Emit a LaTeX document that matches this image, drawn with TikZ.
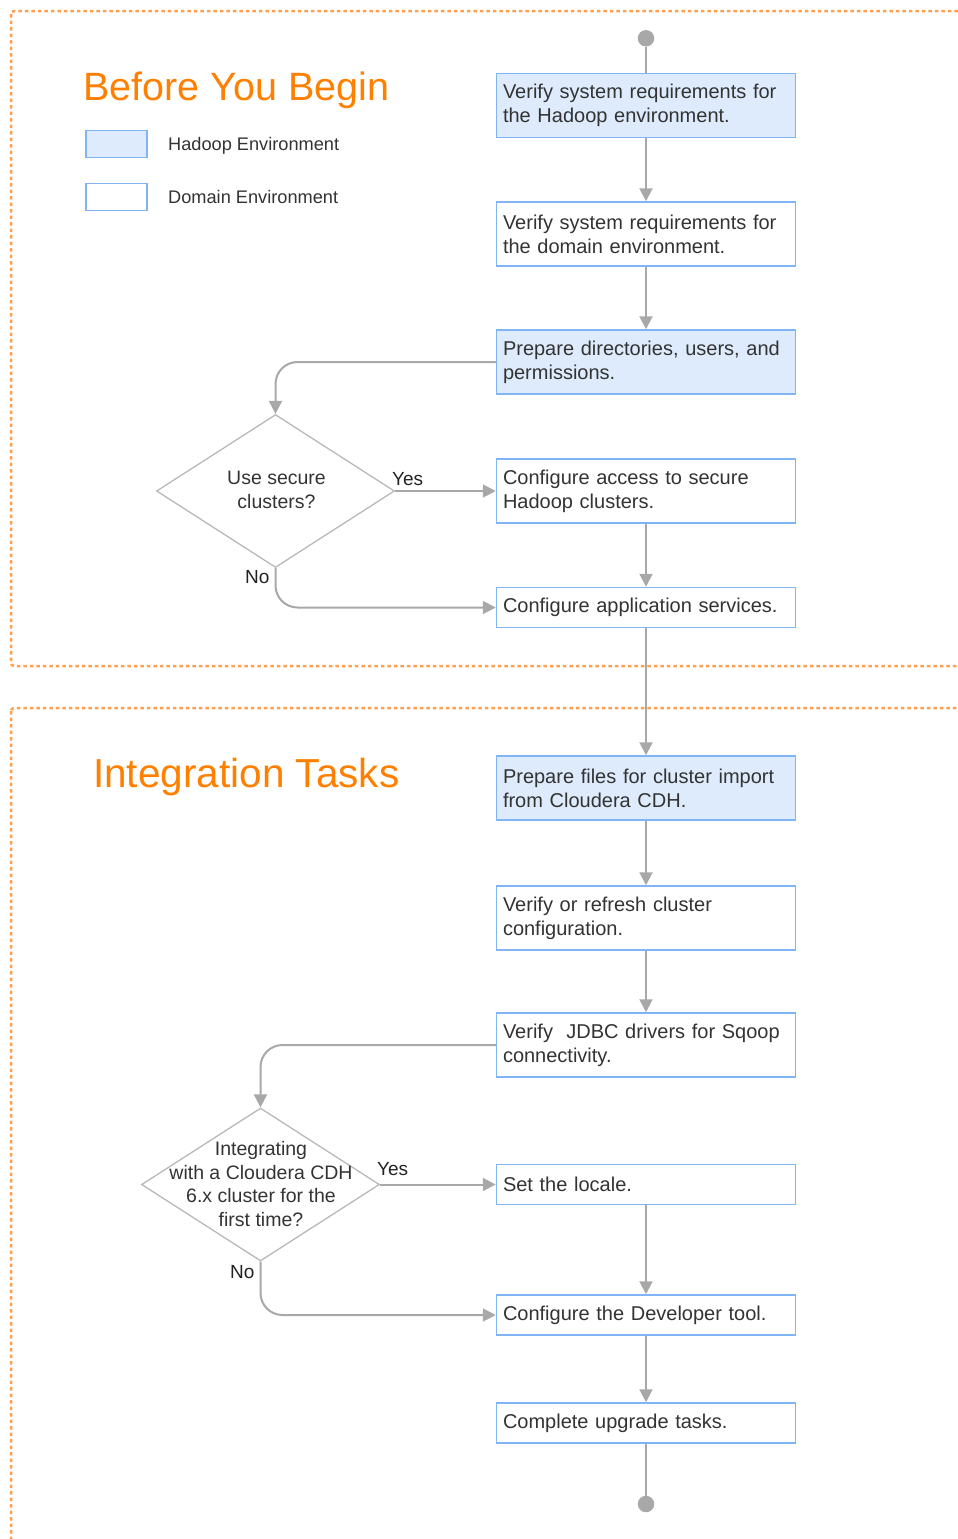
\documentclass[tikz,border=0pt]{standalone}
\usepackage{fontspec}
\setmainfont{Liberation Sans}
\usetikzlibrary{arrows.meta,shapes.geometric}
\definecolor{orng}{HTML}{FF8000}
\definecolor{frameor}{HTML}{FFA050}
\definecolor{hfill}{HTML}{DDEBFC}
\definecolor{hbord}{HTML}{80B4F5}
\definecolor{lgray}{HTML}{A8A8A8}
\definecolor{dgray}{HTML}{B8B8B8}
\definecolor{txt}{HTML}{333333}
\definecolor{lbl}{HTML}{222222}
\begin{document}
\begin{tikzpicture}[x=1pt,y=-1pt,
  task/.style={draw=hbord, line width=1.5pt, fill=white, minimum width=299pt,
    minimum height=64pt, text width=286pt, inner xsep=6.5pt, inner ysep=0pt,
    align=left, font=\fontsize{20}{24}\selectfont, text=txt},
  short/.style={task, minimum height=40pt},
  hadoop/.style={fill=hfill},
  dia/.style={diamond, draw=dgray, line width=1.3pt, minimum width=238pt,
    minimum height=153pt, inner sep=0pt},
  diatext/.style={align=center, inner sep=0pt, font=\fontsize{19.5}{23.5}\selectfont, text=txt},
  yn/.style={anchor=base west, inner sep=0pt, font=\fontsize{19}{23}\selectfont, text=lbl},
  title/.style={anchor=base west, inner sep=0pt, text=orng},
  legbox/.style={draw=hbord, line width=1.5pt, minimum width=61pt, minimum height=27pt, inner sep=0pt},
  legtext/.style={anchor=base west, inner sep=0pt, font=\fontsize{18.2}{22}\selectfont, text=txt},
  frame/.style={draw=frameor, line width=2.5pt, dash pattern=on 3.5pt off 3pt, rounded corners=3pt},
  conn/.style={draw=lgray, line width=2pt},
  arr/.style={conn, -{Triangle[length=13pt,width=13pt]}},
  term/.style={circle, fill=lgray, minimum size=16.5pt, inner sep=0pt},
]
\useasboundingbox (0,0) rectangle (958,1539);
\clip (0,0) rectangle (958,1539);

% frames
\path[frame] (11,11) rectangle (990,666);
\path[frame] (11,708) rectangle (990,1580);

% titles and legend
\node[title, font=\fontsize{39.5}{46}\selectfont] (t1) at (83,100) {Before You Begin};
\node[title, font=\fontsize{40.5}{46}\selectfont] (t2) at (93,787) {Integration Tasks};
\node[legbox, fill=hfill] (lg1) at (116.5,144) {};
\node[legbox, fill=white] (lg2) at (116.5,197) {};
\node[legtext] (lt1) at (168,150.7) {Hadoop Environment};
\node[legtext] (lt2) at (168,203.3) {Domain Environment};

% terminals
\node[term] (start) at (646,38.3) {};
\node[term] (end) at (646,1504) {};

% upper flow
\node[task, hadoop] (b1) at (646,105.3) {Verify system requirements for\\the Hadoop environment.};
\node[task] (b2) at (646,234) {Verify system requirements for\\the domain environment.};
\node[task, hadoop] (b3) at (646,362) {Prepare directories, users, and\\permissions.};
\node[dia] (d1) at (275.5,491) {};
\node[diatext] (d1t) at (276.5,490) {Use secure\\clusters?};
\node[task] (b4) at (646,491) {Configure access to secure\\Hadoop clusters.};
\node[short] (b5) at (646,607.5) {Configure application services.};
\node[yn] (y1) at (392,485.7) {Yes};
\node[yn] (n1) at (245,583.3) {No};

% lower flow
\node[task, hadoop] (b6) at (646,788) {Prepare files for cluster import\\from Cloudera CDH.};
\node[task] (b7) at (646,918) {Verify or refresh cluster\\configuration.};
\node[task] (b8) at (646,1045) {Verify\ \ JDBC drivers for Sqoop\\connectivity.};
\node[dia] (d2) at (260.5,1184.5) {};
\node[diatext] (d2t) at (261,1184) {Integrating\\with a Cloudera CDH\\6.x cluster for the\\first time?};
\node[short] (b9) at (646,1184.5) {Set the locale.};
\node[short] (b10) at (646,1315) {Configure the Developer tool.};
\node[short] (b11) at (646,1423) {Complete upgrade tasks.};
\node[yn] (y2) at (377,1175) {Yes};
\node[yn] (n2) at (230,1278.3) {No};

% connectors
\draw[conn] (start) -- (b1);
\draw[arr] (b1) -- (b2);
\draw[arr] (b2) -- (b3);
\draw[arr, rounded corners=22pt] (b3.west) -| (d1.north);
\draw[arr] (d1.east) -- (b4.west);
\draw[arr, rounded corners=22pt] (d1.south) |- (b5.west);
\draw[arr] (b4) -- (b5);
\draw[arr] (b5) -- (b6);
\draw[arr] (b6) -- (b7);
\draw[arr] (b7) -- (b8);
\draw[arr, rounded corners=22pt] (b8.west) -| (d2.north);
\draw[arr] (d2.east) -- (b9.west);
\draw[arr, rounded corners=22pt] (d2.south) |- (b10.west);
\draw[arr] (b9) -- (b10);
\draw[arr] (b10) -- (b11);
\draw[conn] (b11) -- (end);
\end{tikzpicture}
\end{document}
